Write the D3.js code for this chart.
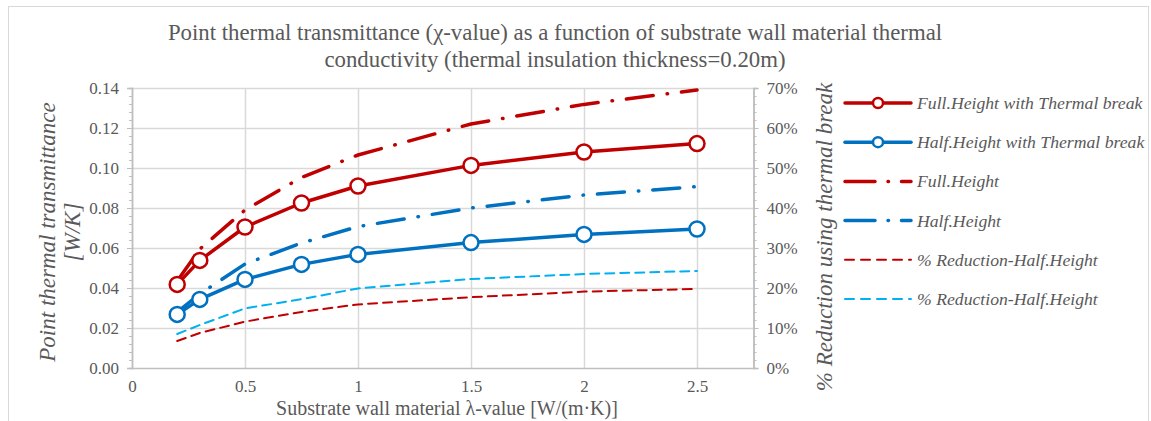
<!DOCTYPE html>
<html lang="en">
<head>
    <meta charset="UTF-8">
    <title>Point thermal transmittance vs substrate conductivity</title>
    <script src="https://d3js.org/d3.v7.min.js"></script>
    <style>
        body { margin: 0; background: #fff; }
        svg text { font-family: "Times New Roman", "Liberation Serif", "DejaVu Serif", serif; fill: #595959; }
    </style>
</head>
<body>
    <svg id="chart" width="1151" height="421"></svg>

    <script>
        // data
        const lambdaValues = [0.2, 0.3, 0.5, 0.75, 1, 1.5, 2, 2.5];
        const fullHeightTB = [0.0418, 0.0538, 0.0705, 0.0825, 0.0910, 0.1013, 0.1080, 0.1122];
        const halfHeightTB = [0.0268, 0.0343, 0.0443, 0.0518, 0.0568, 0.0627, 0.0668, 0.0695];
        const fullHeight = [0.0435, 0.0595, 0.0790, 0.0953, 0.1065, 0.1220, 0.1318, 0.1390];
        const halfHeight = [0.0280, 0.0370, 0.0520, 0.0625, 0.0707, 0.0800, 0.0865, 0.0907];
        const reductionFull = [0.0675, 0.0875, 0.116, 0.140, 0.159, 0.177, 0.191, 0.1975];
        const reductionHalf = [0.085, 0.1075, 0.149, 0.172, 0.199, 0.2225, 0.235, 0.2425];
        const xTicks = [0, 0.5, 1, 1.5, 2, 2.5];
        const yTicks = [0, 0.02, 0.04, 0.06, 0.08, 0.10, 0.12, 0.14];
        const pctTicks = [0, 0.1, 0.2, 0.3, 0.4, 0.5, 0.6, 0.7];

        const serif = "'Times New Roman', 'Liberation Serif', 'DejaVu Serif', serif";
        const svg = d3.select("#chart").attr("font-family", serif);
        const margin = { top: 88, left: 132, right: 755, bottom: 368 };

        const x = d3.scaleLinear().domain([0, 2.75]).range([margin.left, margin.left + 2.75 * 226]);
        const y = d3.scaleLinear().domain([0, 0.14]).range([margin.bottom, margin.top]);
        const yPct = d3.scaleLinear().domain([0, 0.7]).range([margin.bottom, margin.top]);

        // chart border
        svg.append("rect")
            .attr("x", 8.5).attr("y", 6.5)
            .attr("width", 1140).attr("height", 430)
            .attr("fill", "none").attr("stroke", "#d9d9d9");

        // gridlines
        svg.append("g").selectAll("line")
            .data(yTicks.slice(1))
            .enter().append("line")
            .attr("x1", x(0)).attr("x2", x(2.75))
            .attr("y1", d => Math.round(y(d)) + 0.5).attr("y2", d => Math.round(y(d)) + 0.5)
            .attr("stroke", "#d9d9d9").attr("stroke-width", 1.5);

        svg.append("g").selectAll("line")
            .data(xTicks.slice(1))
            .enter().append("line")
            .attr("x1", d => Math.round(x(d)) + 0.5).attr("x2", d => Math.round(x(d)) + 0.5)
            .attr("y1", y(0)).attr("y2", y(0.14))
            .attr("stroke", "#d9d9d9").attr("stroke-width", 1.5);

        // left axis
        svg.append("g")
            .attr("transform", "translate(" + x(0) + ",0)")
            .call(d3.axisLeft(y).tickValues(d3.range(0, 0.1401, 0.004)).tickSize(3).tickFormat(""));
        svg.append("g")
            .attr("transform", "translate(" + x(0) + ",0)")
            .call(d3.axisLeft(y).tickValues(yTicks).tickSize(5).tickPadding(8).tickFormat(d3.format(".2f")));

        // right axis
        svg.append("g")
            .attr("transform", "translate(" + x(2.75) + ",0)")
            .call(d3.axisRight(yPct).tickValues(d3.range(0, 0.701, 0.02)).tickSize(3).tickFormat(""));
        svg.append("g")
            .attr("transform", "translate(" + x(2.75) + ",0)")
            .call(d3.axisRight(yPct).tickValues(pctTicks).tickSize(5).tickPadding(8).tickFormat(d3.format(".0%")));

        // bottom axis
        svg.append("g")
            .attr("transform", "translate(0," + y(0) + ")")
            .call(d3.axisBottom(x).tickValues(xTicks).tickSize(0).tickPadding(12).tickFormat(d3.format("")));

        svg.selectAll("g").attr("font-family", serif);
        svg.selectAll(".domain").attr("stroke", "#bfbfbf").attr("stroke-width", 1.5);
        svg.selectAll(".tick line").attr("stroke", "#bfbfbf");
        svg.selectAll(".tick text")
            .style("font-size", "17px")
            .attr("fill", "#595959");

        // series
        const series = [
            { name: "Full.Height with Thermal break", values: fullHeightTB, scale: y, color: "#c00000", width: 3.5, dash: null, marker: true },
            { name: "Half.Height with Thermal break", values: halfHeightTB, scale: y, color: "#0070c0", width: 3.5, dash: null, marker: true },
            { name: "Full.Height", values: fullHeight, scale: y, color: "#c00000", width: 3.5, dash: "27 14 0.5 14", marker: false },
            { name: "Half.Height", values: halfHeight, scale: y, color: "#0070c0", width: 3.5, dash: "27 14 0.5 14", marker: false },
            { name: "% Reduction-Half.Height", values: reductionFull, scale: yPct, color: "#c00000", width: 2, dash: "9 6", marker: false },
            { name: "% Reduction-Half.Height", values: reductionHalf, scale: yPct, color: "#00b0f0", width: 2, dash: "9 6", marker: false }
        ];

        const drawOrder = [4, 5, 2, 3, 1, 0];
        drawOrder.forEach(function(i) {
            const s = series[i];
            const line = d3.line()
                .x((d, j) => x(lambdaValues[j]))
                .y(d => s.scale(d));
            svg.append("path")
                .datum(s.values)
                .attr("d", line)
                .attr("fill", "none")
                .attr("stroke", s.color)
                .attr("stroke-width", s.width)
                .attr("stroke-linecap", "round")
                .attr("stroke-linejoin", "round")
                .attr("stroke-dasharray", s.dash);

            if (s.marker) {
                svg.append("g").selectAll("circle")
                    .data(s.values)
                    .enter().append("circle")
                    .attr("cx", (d, j) => x(lambdaValues[j]))
                    .attr("cy", d => s.scale(d))
                    .attr("r", 7.5)
                    .attr("fill", "#fff")
                    .attr("stroke", s.color)
                    .attr("stroke-width", 2.5);
            }
        });

        // title
        const title = svg.append("text")
            .attr("text-anchor", "middle")
            .style("font-size", "22.8px");
        title.append("tspan").attr("x", 555).attr("y", 40)
            .text("Point thermal transmittance (\u03c7-value) as a function of substrate wall material thermal");
        title.append("tspan").attr("x", 555).attr("y", 67)
            .text("conductivity (thermal insulation thickness=0.20m)");

        // axis titles
        svg.append("text")
            .attr("x", 447).attr("y", 415)
            .attr("text-anchor", "middle")
            .style("font-size", "20px")
            .text("Substrate wall material \u03bb-value [W/(m\u00b7K)]");

        const leftTitle = svg.append("text")
            .attr("transform", "translate(55,232) rotate(-90)")
            .attr("text-anchor", "middle")
            .style("font-size", "23px")
            .style("font-style", "italic");
        leftTitle.append("tspan").attr("x", 0).attr("y", 0).text("Point thermal transmittance");
        leftTitle.append("tspan").attr("x", 0).attr("y", 25).text("[W/K]");

        svg.append("text")
            .attr("transform", "translate(832,237) rotate(-90)")
            .attr("text-anchor", "middle")
            .style("font-size", "23px")
            .style("font-style", "italic")
            .text("% Reduction using thermal break");

        // legend
        const legend = svg.append("g").attr("transform", "translate(845,103)");
        series.forEach(function(s, i) {
            const row = legend.append("g").attr("transform", "translate(0," + i * 39.2 + ")");
            row.append("line")
                .attr("x1", 0).attr("x2", 66)
                .attr("y1", 0).attr("y2", 0)
                .attr("stroke", s.color)
                .attr("stroke-width", s.width)
                .attr("stroke-linecap", "round")
                .attr("stroke-dasharray", s.marker ? null : (s.width > 3 ? "30 13 0.5 13" : "9 7"));
            if (s.marker) {
                row.append("circle")
                    .attr("cx", 33).attr("cy", 0).attr("r", 5)
                    .attr("fill", "#fff").attr("stroke", s.color).attr("stroke-width", 2.5);
            }
            row.append("text")
                .attr("x", 72).attr("y", 6)
                .style("font-size", "17.7px")
                .style("font-style", "italic")
                .text(s.name);
        });
    </script>
</body>
</html>
